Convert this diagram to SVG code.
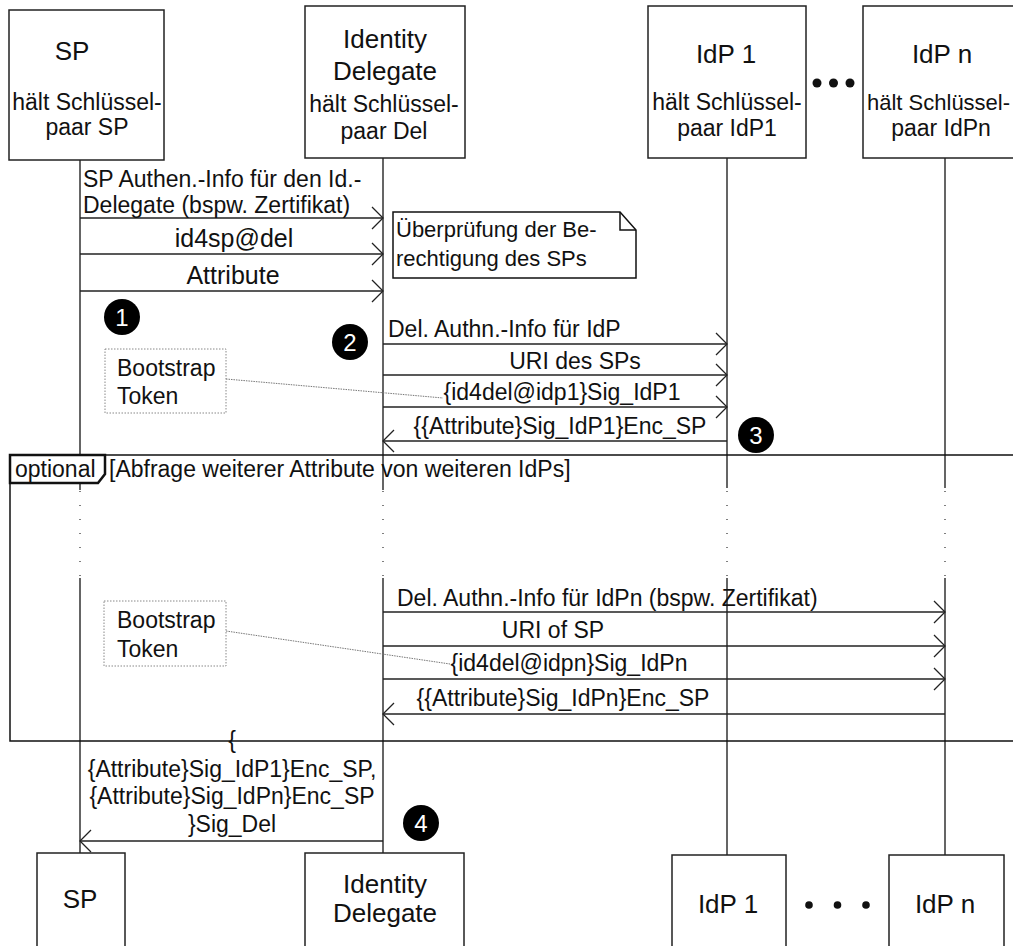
<svg xmlns="http://www.w3.org/2000/svg" width="1013" height="946" viewBox="0 0 1013 946">
<style>
text{font-family:"Liberation Sans",Arial,sans-serif;font-size:23px;fill:#111}
.t{font-size:26px}
.m{text-anchor:middle}
.box{fill:#fff;stroke:#222;stroke-width:1.5}
.life{stroke:#333;stroke-width:1.5;fill:none}
.dots{stroke:#555;stroke-width:1.5;stroke-dasharray:1 13;fill:none}
.msg{stroke:#222;stroke-width:1.3;fill:none;marker-end:url(#arr)}
.tok{fill:#fff;stroke:#888;stroke-width:1;stroke-dasharray:1.5 1.5}
.tokl{stroke:#777;stroke-width:1;stroke-dasharray:1.5 1;fill:none}
.num{fill:#fff;font-size:24px;text-anchor:middle}
</style>
<defs>
<marker id="arr" markerUnits="userSpaceOnUse" markerWidth="14" markerHeight="26" refX="12" refY="12" orient="auto">
<path d="M1,1 L12,12 L1,23" fill="none" stroke="#222" stroke-width="1.3"/>
</marker>
</defs>
<rect width="1013" height="946" fill="#fff"/>

<g id="lifelines">
<path class="life" d="M80,160V490M80,578V853"/>
<path class="dots" d="M80,491V578"/>
<path class="life" d="M383,158V490M383,578V853"/>
<path class="dots" d="M383,491V578"/>
<path class="life" d="M727,158V488M727,578V855"/>
<path class="dots" d="M727,491V578"/>
<path class="life" d="M945,158V488M945,578V855"/>
<path class="dots" d="M945,491V578"/>
</g>

<g id="frame-optional">
<path d="M1020,455H10V741H1020" fill="none" stroke="#111" stroke-width="1.5"/>
<path d="M10,455H105V474L98,483H10Z" fill="#fff" stroke="#111" stroke-width="2.5"/>
<text x="15" y="477">optional</text>
<text x="109" y="477">[Abfrage weiterer Attribute von weiteren IdPs]</text>
</g>

<g id="sp-top">
<rect class="box" x="9" y="10" width="155" height="150"/>
<text class="t m" x="72" y="60">SP</text>
<text class="m" x="87" y="110">hält Schlüssel-</text>
<text class="m" x="87" y="135">paar SP</text>
</g>
<g id="del-top">
<rect class="box" x="305" y="6" width="160" height="152"/>
<text class="t m" x="385" y="48">Identity</text>
<text class="t m" x="385" y="80">Delegate</text>
<text class="m" x="384" y="112">hält Schlüssel-</text>
<text class="m" x="384" y="139">paar Del</text>
</g>
<g id="idp1-top">
<rect class="box" x="648" y="6" width="158" height="152"/>
<text class="t m" x="726" y="63">IdP 1</text>
<text class="m" x="727" y="110">hält Schlüssel-</text>
<text class="m" x="727" y="136">paar IdP1</text>
</g>
<g id="dots-top">
<circle cx="817" cy="83" r="4.5" fill="#111"/>
<circle cx="833.5" cy="83" r="4.5" fill="#111"/>
<circle cx="850" cy="83" r="4.5" fill="#111"/>
</g>
<g id="idpn-top">
<rect class="box" x="863" y="6" width="160" height="152"/>
<text class="t m" x="942" y="63">IdP n</text>
<text x="867" y="110" style="font-size:22px">hält Schlüssel-</text>
<text class="m" x="941" y="136">paar IdPn</text>
</g>

<g id="note-check">
<path d="M393,212H620L636,230V278H393Z" fill="#fff" stroke="#111" stroke-width="1.5"/>
<path d="M620,212V230H636" fill="none" stroke="#111" stroke-width="1.5"/>
<text x="396" y="237" style="font-size:22px">Überprüfung der Be-</text>
<text x="396" y="266" style="font-size:22px">rechtigung des SPs</text>
</g>

<g id="token-1">
<rect class="tok" x="105" y="349" width="121" height="64"/>
<text x="117" y="376">Bootstrap</text>
<text x="117" y="404">Token</text>
</g>
<g id="token-2">
<rect class="tok" x="104" y="601" width="122" height="65"/>
<text x="117" y="628">Bootstrap</text>
<text x="117" y="657">Token</text>
</g>

<g id="steps">
<circle cx="122" cy="317" r="18" fill="#000"/><text class="num" x="122" y="326">1</text>
<circle cx="350" cy="342" r="18" fill="#000"/><text class="num" x="350" y="351">2</text>
<circle cx="756" cy="435" r="18" fill="#000"/><text class="num" x="756" y="444">3</text>
<circle cx="421" cy="823" r="18" fill="#000"/><text class="num" x="421" y="832">4</text>
</g>

<g id="connectors">
<path class="msg" d="M80,218H383"/>
<path class="msg" d="M80,254H383"/>
<path class="msg" d="M80,291H383"/>
<path class="msg" d="M383,344H727"/>
<path class="msg" d="M383,375H727"/>
<path class="msg" d="M383,407H727"/>
<path class="msg" d="M727,441H383"/>
<path class="msg" d="M383,612H945"/>
<path class="msg" d="M383,646H945"/>
<path class="msg" d="M383,679H945"/>
<path class="msg" d="M945,714H383"/>
<path class="msg" d="M383,841H80"/>
<path class="tokl" d="M226,379L443,398"/>
<path class="tokl" d="M226,631L450,664"/>
</g>

<g id="labels">
<text x="83" y="187">SP Authen.-Info für den Id.-</text>
<text x="83" y="213">Delegate (bspw. Zertifikat)</text>
<text class="m" x="234" y="247" style="font-size:25px">id4sp@del</text>
<text class="m" x="233" y="284" style="font-size:25px">Attribute</text>
<text x="388" y="337">Del. Authn.-Info für IdP</text>
<text class="m" x="575" y="369">URI des SPs</text>
<text class="m" x="562" y="400">{id4del@idp1}Sig_IdP1</text>
<text class="m" x="560" y="434">{{Attribute}Sig_IdP1}Enc_SP</text>
<text x="397" y="606">Del. Authn.-Info für IdPn (bspw. Zertifikat)</text>
<text class="m" x="553" y="638">URI of SP</text>
<text class="m" x="569" y="671">{id4del@idpn}Sig_IdPn</text>
<text class="m" x="563" y="706">{{Attribute}Sig_IdPn}Enc_SP</text>
<text class="m" x="232" y="748">{</text>
<text class="m" x="232" y="777">{Attribute}Sig_IdP1}Enc_SP,</text>
<text class="m" x="232" y="804">{Attribute}Sig_IdPn}Enc_SP</text>
<text class="m" x="232" y="832">}Sig_Del</text>
</g>

<g id="sp-bottom">
<rect class="box" x="37" y="853" width="88" height="110"/>
<text class="t m" x="80" y="908">SP</text>
</g>
<g id="del-bottom">
<rect class="box" x="305" y="853" width="159" height="110"/>
<text class="t m" x="385" y="893">Identity</text>
<text class="t m" x="385" y="922">Delegate</text>
</g>
<g id="idp1-bottom">
<rect class="box" x="672" y="855" width="114" height="110"/>
<text class="t m" x="728" y="913">IdP 1</text>
</g>
<g id="dots-bottom">
<circle cx="809" cy="905" r="3.8" fill="#111"/>
<circle cx="837.5" cy="905" r="3.8" fill="#111"/>
<circle cx="866" cy="905" r="3.8" fill="#111"/>
</g>
<g id="idpn-bottom">
<rect class="box" x="889" y="855" width="115" height="110"/>
<text class="t m" x="945" y="913">IdP n</text>
</g>
</svg>
